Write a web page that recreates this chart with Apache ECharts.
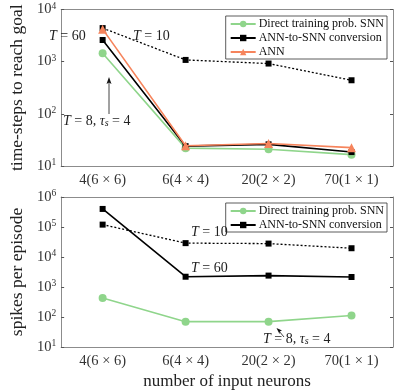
<!DOCTYPE html>
<html><head><meta charset="utf-8">
<script src="https://cdn.jsdelivr.net/npm/echarts@6/dist/echarts.min.js"></script>
<style>html,body{margin:0;padding:0;background:#fff}#c{width:396px;height:391px}</style>
</head><body><div id="c"></div>
<script>
const categories = ['4(6 × 6)', '6(4 × 4)', '20(2 × 2)', '70(1 × 1)'];
// top panel: time-steps to reach goal
const topDirect = [1450, 22, 21, 16.5];
const topConvT60 = [2600, 24, 26, 18.5];
const topConvT10 = [4400, 1080, 920, 440];
const topANN = [4200, 24.5, 27, 22.5];
// bottom panel: spikes per episode
const botDirect = [430, 70, 70, 112];
const botConvT60 = [400000, 2200, 2400, 2150];
const botConvT10 = [120000, 29000, 28000, 19600];

const FONT = 'Liberation Serif';
const GREEN = '#8fd58b', ORANGE = '#f6845c', BLACK = '#000';
const AX = '#8c8c8c';

const chart = echarts.init(document.getElementById('c'), null, {renderer: 'canvas'});

const grids = [
  {left: 47, right: 3, top: 9.5, height: 156.5},
  {left: 47, right: 3, top: 197, height: 153}
];

function xAxes(gi, showLabels) {
  return [
    {type: 'category', gridIndex: gi, data: categories, position: 'bottom',
     boundaryGap: true,
     axisLine: {lineStyle: {color: AX, width: 1}},
     axisTick: {inside: true, alignWithLabel: true, length: 3, lineStyle: {color: '#555'}},
     axisLabel: {show: true, color: '#333', fontFamily: FONT, fontSize: 14.5, margin: 7},
     name: showLabels ? 'number of input neurons' : '',
     nameLocation: 'middle', nameGap: 26,
     nameTextStyle: {fontFamily: FONT, fontSize: 17, color: '#222'},
     splitLine: {show: false}},
    {type: 'category', gridIndex: gi, data: categories, position: 'top',
     boundaryGap: true,
     axisLine: {lineStyle: {color: AX, width: 1}},
     axisTick: {inside: true, alignWithLabel: true, length: 3, lineStyle: {color: '#555'}},
     axisLabel: {show: false}, splitLine: {show: false}}
  ];
}
function supFmt(v) {
  const e = Math.round(Math.log10(v));
  return '10{sup|' + e + '}';
}
const labelRich = {sup: {fontFamily: FONT, fontSize: 9.5, verticalAlign: 'top', padding: [0,0,7,0], color: '#333'}};
function yAxes(gi, max, name) {
  return [
    {type: 'log', logBase: 10, gridIndex: gi, min: 10, max: max, position: 'left',
     axisLine: {show: true, lineStyle: {color: AX, width: 1}},
     axisTick: {show: true, inside: true, length: 3, lineStyle: {color: '#555'}},
     minorTick: {show: false},
     axisLabel: {formatter: supFmt, rich: labelRich, color: '#333', fontFamily: FONT, fontSize: 14.5, margin: 5},
     splitLine: {show: false},
     name: name, nameLocation: 'middle', nameGap: 26,
     nameTextStyle: {fontFamily: FONT, fontSize: 17.5, color: '#222'}},
    {type: 'log', logBase: 10, gridIndex: gi, min: 10, max: max, position: 'right',
     axisLine: {show: true, lineStyle: {color: AX, width: 1}},
     axisTick: {show: true, inside: true, length: 3, lineStyle: {color: '#555'}},
     axisLabel: {show: false}, splitLine: {show: false}}
  ];
}

function line(name, data, color, symbol, size, xi, yi, dotted, z) {
  return {
    name: name, type: 'line', data: data, xAxisIndex: xi, yAxisIndex: yi,
    symbol: symbol, symbolSize: size, showSymbol: true,
    lineStyle: {color: color, width: dotted ? 1.3 : 1.6, type: dotted ? [2, 2] : 'solid'},
    itemStyle: {color: color}, z: z || 2, animation: false
  };
}

const italic = {fontFamily: FONT, fontStyle: 'italic', fontSize: 14, color: '#222'};
const reg = {fontFamily: FONT, fontSize: 14, color: '#222'};
const sub = {fontFamily: FONT, fontStyle: 'italic', fontSize: 10, color: '#222', verticalAlign: 'bottom', padding: [5,0,0,0]};
function ann(x, y, str) {
  return {type: 'text', left: x, top: y, z: 50,
    style: {text: str, rich: {i: italic, r: reg, s: sub}, font: '14px ' + FONT, fill: '#222'}};
}
const legendCommon = {
  orient: 'vertical', itemGap: 2, itemWidth: 25, itemHeight: 8,
  padding: [2, 3, 1, 4], borderColor: '#333', borderWidth: 0.8, backgroundColor: '#fff',
  textStyle: {fontFamily: FONT, fontSize: 12, color: '#111', padding: [0, 0, 0, -2]}
};

const option = {
  animation: false,
  grid: grids,
  xAxis: [...xAxes(0, false), ...xAxes(1, true)],
  yAxis: [...yAxes(0, 10000, 'time-steps to reach goal'), ...yAxes(1, 1000000, 'spikes per episode')],
  legend: [
    Object.assign({data: ['Direct training prob. SNN', 'ANN-to-SNN conversion', 'ANN'], right: 9, top: 16}, legendCommon),
    Object.assign({data: ['Direct training prob. SNN', 'ANN-to-SNN conversion'], right: 9, top: 203}, legendCommon)
  ],
  series: [
    line('T10top', topConvT10, BLACK, 'rect', 6, 0, 0, true, 2),
    line('Direct training prob. SNN', topDirect, GREEN, 'circle', 8, 0, 0, false, 3),
    line('ANN-to-SNN conversion', topConvT60, BLACK, 'rect', 6, 0, 0, false, 4),
    line('ANN', topANN, ORANGE, 'triangle', 9, 0, 0, false, 5),
    line('T10bot', botConvT10, BLACK, 'rect', 6, 2, 2, true, 2),
    line('ANN-to-SNN conversion', botConvT60, BLACK, 'rect', 6, 2, 2, false, 4),
    line('Direct training prob. SNN', botDirect, GREEN, 'circle', 8, 2, 2, false, 3)
  ],
  graphic: [
    ann(49, 29, '{i|T} = 60'),
    ann(133, 29, '{i|T} = 10'),
    ann(63, 114, '{i|T} = 8, {i|τ}{s|s} = 4'),
    ann(191, 225, '{i|T} = 10'),
    ann(191, 261, '{i|T} = 60'),
    ann(263, 332, '{i|T} = 8, {i|τ}{s|s} = 4'),
    {type: 'line', z: 40, shape: {x1: 109, y1: 114, x2: 109, y2: 81}, style: {stroke: '#444', lineWidth: 1}},
    {type: 'polygon', z: 40, shape: {points: [[109, 77], [106.5, 84], [109, 82.5], [111.5, 84]]}, style: {fill: '#111'}},
    {type: 'line', z: 40, shape: {x1: 284, y1: 337, x2: 279, y2: 331}, style: {stroke: '#444', lineWidth: 1}},
    {type: 'polygon', z: 40, shape: {points: [[276.5, 328], [282, 330.5], [279.8, 331.5], [279.5, 334]]}, style: {fill: '#111'}}
  ]
};
chart.setOption(option);
</script></body></html>
